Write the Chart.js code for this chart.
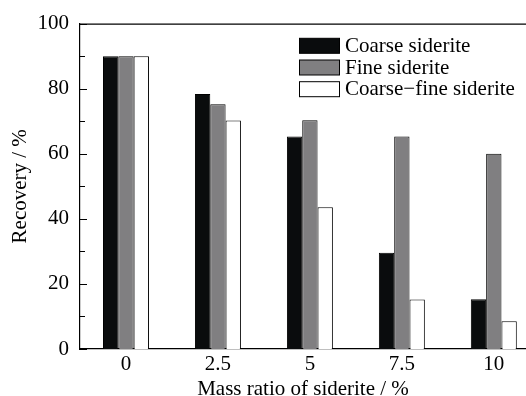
<!DOCTYPE html>
<html><head><meta charset="utf-8">
<script src="https://cdn.jsdelivr.net/npm/chart.js@4/dist/chart.umd.min.js"></script>
<style>html,body{margin:0;padding:0;background:#fff}#wrap{width:526px;height:396px}</style>
</head><body><div id="wrap"><canvas id="c" width="526" height="396"></canvas></div>
<script>
const categories = ['0', '2.5', '5', '7.5', '10'];
const coarse = [90, 78.4, 65.3, 29.6, 15.3];
const fine = [90, 75.2, 70.3, 65.3, 60.0];
const coarseFine = [90, 70.2, 43.6, 15.2, 8.5];
const seriesNames = ['Coarse siderite', 'Fine siderite', 'Coarse\u2212fine siderite'];
const yTicks = [0, 20, 40, 60, 80, 100];

const FONT = '"Liberation Serif", "Times New Roman", serif';
const toPts = arr => arr.map((v, i) => ({x: i, y: v}));

const frame = {
  id: 'frame',
  afterDraw(chart) {
    const {ctx, chartArea: a, scales: {y}} = chart;
    ctx.save();
    ctx.strokeStyle = '#000'; ctx.lineWidth = 1.2;
    ctx.beginPath();
    ctx.moveTo(a.left, a.top + 0.5); ctx.lineTo(a.right, a.top + 0.5);
    ctx.stroke();
    ctx.lineWidth = 1;
    for (let v = 0; v <= 100; v += 10) {
      const py = Math.round(y.getPixelForValue(v)) + 0.5;
      const len = v % 20 === 0 ? 7 : 5;
      ctx.beginPath(); ctx.moveTo(a.left, py); ctx.lineTo(a.left + len, py); ctx.stroke();
    }
    const ds = chart.data.datasets;
    ctx.font = '21px ' + FONT; ctx.textBaseline = 'middle'; ctx.textAlign = 'left';
    ds.forEach((d, i) => {
      const cy = 45.8 + i * 21.7;
      ctx.fillStyle = d.backgroundColor;
      ctx.fillRect(299.5, cy - 7.5, 40, 15);
      ctx.strokeStyle = '#000'; ctx.lineWidth = 1;
      ctx.strokeRect(299.5, cy - 7.5, 40, 15);
      ctx.fillStyle = '#000';
      ctx.fillText(d.label, 345, cy + 0.5);
    });
    ctx.restore();
  }
};

new Chart(document.getElementById('c'), {
  type: 'bar',
  data: {
    datasets: [
      {label: seriesNames[0], data: toPts(coarse), backgroundColor: '#0a0c0d', borderColor: '#000', borderWidth: 1},
      {label: seriesNames[1], data: toPts(fine), backgroundColor: '#807f81', borderColor: '#000', borderWidth: 1},
      {label: seriesNames[2], data: toPts(coarseFine), backgroundColor: '#ffffff', borderColor: '#000', borderWidth: 1}
    ]
  },
  options: {
    responsive: false, animation: false, devicePixelRatio: 1,
    layout: {padding: {top: 7.5, right: 0, left: 0, bottom: 0}},
    datasets: {bar: {categoryPercentage: 0.5, barPercentage: 1.0, borderSkipped: 'bottom'}},
    plugins: {legend: {display: false}, tooltip: {enabled: false}},
    scales: {
      x: {
        type: 'linear', min: -0.5, max: 4.35, offset: false,
        afterBuildTicks: s => { s.ticks = categories.map((c, i) => ({value: i})); },
        afterFit: s => { s.height = 47; },
        ticks: {callback: v => categories[v], color: '#000', font: {family: FONT, size: 21}, padding: 3, maxRotation: 0},
        grid: {display: false, drawTicks: false},
        border: {display: true, color: '#000', width: 1.2},
        title: {display: true, text: 'Mass ratio of siderite / %', color: '#000', font: {family: FONT, size: 21, lineHeight: 1}, padding: {top: 0, bottom: -4}}
      },
      y: {
        min: 0, max: 100,
        afterBuildTicks: s => { s.ticks = yTicks.map(v => ({value: v})); },
        afterFit: s => { s.width = 80; },
        ticks: {color: '#000', font: {family: FONT, size: 21}, padding: 11},
        grid: {display: false, drawTicks: false},
        border: {display: true, color: '#000', width: 1.2},
        title: {display: true, text: 'Recovery / %', color: '#000', font: {family: FONT, size: 21}, padding: {top: 8, bottom: 0}}
      }
    }
  },
  plugins: [frame]
});
</script></body></html>
